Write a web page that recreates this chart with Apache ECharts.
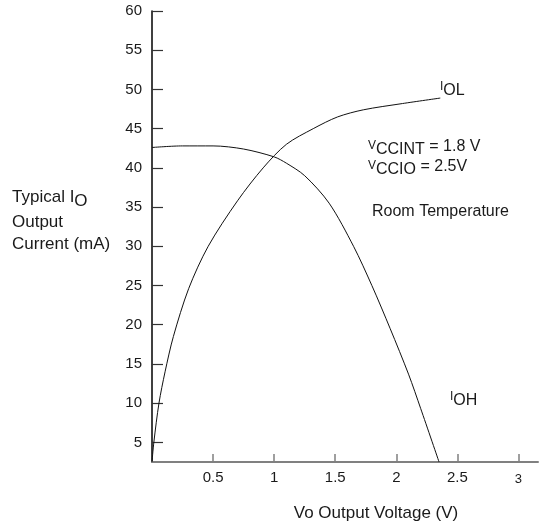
<!DOCTYPE html>
<html><head><meta charset="utf-8">
<script src="https://cdn.jsdelivr.net/npm/echarts@6/dist/echarts.min.js"></script>
<style>html,body{margin:0;padding:0;background:#fff}#c{width:546px;height:527px}</style>
</head><body><div id="c"></div>
<script>
// Data
const iolV = [0, 0.015, 0.057, 0.107, 0.175, 0.3, 0.46, 0.7, 0.91, 1.1, 1.32, 1.52, 1.73, 2.05, 2.36];
const iolI = [2.5, 5, 10, 14, 18.5, 24.6, 30, 35.8, 40, 43, 45, 46.5, 47.4, 48.2, 48.9];
const iohV = [0, 0.25, 0.5, 0.75, 1.0, 1.1, 1.25, 1.45, 1.65, 1.8, 1.95, 2.1, 2.2, 2.35];
const iohI = [42.6, 42.8, 42.8, 42.4, 41.4, 40.6, 39.0, 35.5, 30.0, 25.0, 19.5, 13.7, 9.3, 2.5];
const xTicks = [0.5, 1, 1.5, 2, 2.5, 3];
const yTicks = [5, 10, 15, 20, 25, 30, 35, 40, 45, 50, 55, 60];

const FONT = '"Liberation Sans", Arial, Helvetica, sans-serif';
const TXT = '#1a1a1a';
const pair = (xs, ys) => xs.map((x, i) => [x, ys[i]]);
const rich = {
  n: { fontSize: 12, fontFamily: FONT, color: TXT, padding: [0, 0, 6, 0], verticalAlign: 'bottom' },
  m: { fontSize: 16, fontFamily: FONT, color: TXT, padding: [0, 0, 3, 0], verticalAlign: 'bottom' },
  s: { fontSize: 16, fontFamily: FONT, color: TXT, verticalAlign: 'bottom' },
  p: { fontSize: 16, fontFamily: FONT, color: TXT, verticalAlign: 'bottom' },
  y: { fontSize: 17, fontFamily: FONT, color: TXT, padding: [0, 0, 4, 0], verticalAlign: 'bottom' },
  ys: { fontSize: 17, fontFamily: FONT, color: TXT, verticalAlign: 'bottom' }
};
function txt(x, y, text) {
  return { type: 'text', left: x, top: y, style: { text: text, rich: rich, font: '16px ' + FONT, fill: TXT } };
}

const chart = echarts.init(document.getElementById('c'), null, { renderer: 'canvas' });
chart.setOption({
  animation: false,
  backgroundColor: '#fff',
  grid: { left: 152, right: 8, top: 11, bottom: 65, containLabel: false, outerBoundsMode: 'none' },
  xAxis: {
    type: 'value', min: 0, max: 3.16,
    name: 'Vo Output Voltage (V)', nameLocation: 'middle', nameGap: 43,
    nameTextStyle: { fontSize: 17, fontFamily: FONT, color: TXT, padding: [0, 0, 0, 62] },
    axisLine: { show: true, lineStyle: { color: '#808080', width: 2 } },
    axisTick: { show: true, inside: true, length: 8, customValues: xTicks, lineStyle: { color: '#808080', width: 1.5 } },
    axisLabel: {
      customValues: xTicks, fontSize: 15, fontFamily: FONT, color: TXT, margin: 8,
      formatter: v => (v === 3 ? '{sm|3}' : String(v)),
      rich: { sm: { fontSize: 13, fontFamily: FONT, color: TXT, padding: [3, 0, 0, 0] } }
    },
    splitLine: { show: false }
  },
  yAxis: {
    type: 'value', min: 2.5, max: 60,
    axisLine: { show: true, lineStyle: { color: '#000', width: 1.5 } },
    axisTick: { show: true, inside: true, length: 11, customValues: yTicks, lineStyle: { color: '#333', width: 1.2 } },
    axisLabel: { customValues: yTicks, fontSize: 15, fontFamily: FONT, color: TXT, margin: 10 },
    splitLine: { show: false }
  },
  series: [
    { name: 'IOL', type: 'line', data: pair(iolV, iolI), smooth: 0.3, symbol: 'none', lineStyle: { color: '#111', width: 1 } },
    { name: 'IOH', type: 'line', data: pair(iohV, iohI), smooth: 0.3, symbol: 'none', lineStyle: { color: '#111', width: 1 } }
  ],
  graphic: [
    txt(440, 81, '{n|I}{s|OL}'),
    txt(368, 139, '{n|V}{s|CCINT}{m| = 1.8 V}'),
    txt(368, 159, '{n|V}{s|CCIO}{m| = 2.5V}'),
    txt(372, 204, '{p|Room Temperature}'),
    txt(450, 391, '{n|I}{s|OH}'),
    txt(12, 189, '{y|Typical I}{ys|O}'),
    txt(12, 214, '{ys|Output}'),
    txt(12, 236, '{ys|Current (mA)}')
  ]
});
</script>
</body></html>
